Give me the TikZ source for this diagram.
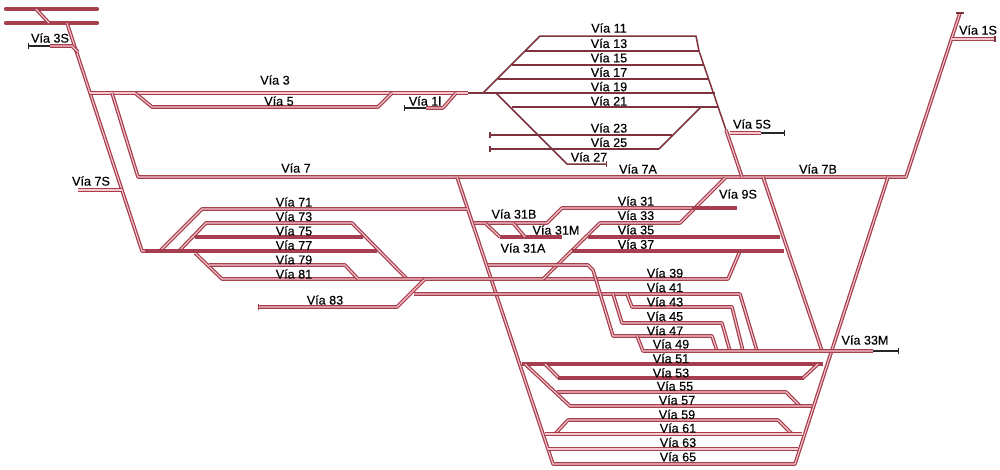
\documentclass[tikz,border=0pt]{standalone}
\usepackage{fontspec}
\setmainfont{Liberation Sans}
\newfontfamily\rotulo[FakeBold=0.25]{Liberation Sans}
\usetikzlibrary{positioning, arrows.meta}
\definecolor{viared}{RGB}{165,62,78}
\definecolor{viapale}{RGB}{248,200,204}
\definecolor{viadark}{RGB}{125,50,62}

\begin{document}
\begin{tikzpicture}[
        x=1pt, y=-1pt,
        node distance=14.4pt,
        via/.style={
            draw=viared, line width=1.25pt,
            double=viapale, double distance=1.1pt, line join=round
        },
        viaplena/.style={draw=viared, line width=4.2pt},
        viafina/.style={draw=viadark, line width=1.5pt, line join=round},
        ramal/.style={draw=black!85, line width=1.1pt},
        etq/.style={
            font=\rotulo\fontsize{12.6}{12.6}\selectfont,
            inner sep=0pt, text=black
        },
        tope/.style={{Bar[width=6pt,length=1.4pt]}-},
        fin/.style={-{Bar[width=6pt,length=1.4pt]}}
    ]
    \useasboundingbox (0,0) rectangle (1000,469);

    % Haces de cabecera
    \draw[viaplena, line cap=round] (6,9) -- (97,9);
    \draw[viaplena, line cap=round] (6,23) -- (97,23);
    \draw[via] (36,9) -- (49,23);

    % Lineas generales
    \draw[via] (67,23) -- (142,251) -- (160,251);
    \draw[via] (90,93) -- (468,93);
    \draw[via] (112,93) -- (138,177) -- (906,177) -- (960,13);
    \draw[viafina] (956,13) -- (964,13);
    \draw[via] (457,177) -- (553,464) -- (795,464) -- (888,177);
    \draw[via] (763,177) -- (822,351);

    % Vias 3S, 7S, 1S, 5S
    \draw[tope, ramal] (28,46) -- (50,46);
    \draw[via] (50,46) -- (72,46) -- (78,52);
    \draw[via] (78,190) -- (122,190);
    \draw[via] (952,39) -- (995,39);
    \draw[viafina] (995,36) -- (995,42);
    \draw[via] (730,133) -- (761,133);
    \draw[fin, ramal] (761,133) -- (785,133);

    % Vias 5 y 1
    \draw[via] (135,93) -- (152,107) -- (378,107) -- (392,93);
    \draw[tope, ramal] (404,108) -- (426,108);
    \draw[via] (426,108) -- (443,108) -- (456,93);

    % Haz superior
    \draw[viafina] (468,93) -- (715,93);
    \draw[viafina] (483,93) -- (540,36) -- (696,36) -- (699,51) -- (726,130);
    \draw[viafina] (525,51) -- (699,51);
    \draw[viafina] (512,65) -- (704,65);
    \draw[viafina] (498,79) -- (709,79);
    \draw[viafina] (512,107) -- (718,107);
    \draw[viafina] (701,107) -- (659,149);
    \draw[viafina, tope] (489,135) -- (672,135);
    \draw[viafina, tope] (489,149) -- (659,149);
    \draw[viafina, fin] (496,93) -- (567,164) -- (607,164);
    \draw[via] (726,130) -- (742,177);

    % Haz izquierdo
    \draw[via] (160,251) -- (202,209) -- (467,209);
    \draw[via] (179,251) -- (206,223) -- (352,223) -- (407,279);
    \draw[viaplena] (195,237) -- (363,237);
    \draw[viaplena] (145,251) -- (377,251);
    \draw[via] (195,253) -- (222,279) -- (728,279) -- (740,251);
    \draw[via] (209,265) -- (345,265) -- (358,279);
    \draw[tope, via] (258,307) -- (397,307) -- (425,279);
    \draw[via] (414,294) -- (740,294) -- (757,351);

    % Vias 31
    \draw[via] (725,178) -- (680,223) -- (600,223) -- (543,279);
    \draw[via] (474,223) -- (547,223) -- (562,208) -- (692,208);
    \draw[viaplena] (692,208) -- (737,208);
    \draw[viaplena] (500,237) -- (562,237);
    \draw[via] (485,223) -- (500,237);
    \draw[via] (513,223) -- (525,237);
    \draw[viaplena] (588,237) -- (780,237);
    \draw[viaplena] (572,251) -- (784,251);

    % Haz central
    \draw[via] (488,265) -- (588,265) -- (593,270) -- (613,336) -- (712,336) -- (717,351);
    \draw[via] (627,294) -- (632,307) -- (732,307) -- (743,351);
    \draw[via] (613,294) -- (622,323) -- (722,323) -- (730,351);
    \draw[via] (637,336) -- (643,351) -- (873,351);
    \draw[fin, ramal] (873,351) -- (899,351);

    % Haz inferior
    \draw[viaplena] (522,364) -- (823,364);
    \draw[via] (545,364) -- (559,378);
    \draw[viaplena] (558,378) -- (804,378);
    \draw[via] (803,378) -- (818,364);
    \draw[via] (557,392) -- (786,392) -- (800,406);
    \draw[via] (525,364) -- (570,406) -- (812,406);
    \draw[via] (555,434) -- (568,420) -- (778,420) -- (792,434);
    \draw[via] (545,434) -- (802,434);
    \draw[via] (548,449) -- (798,449);

    % Rotulos
    \node[etq] (v3s) at (50,38) {Vía 3S};
    \node[etq] (v3) at (275,80) {Vía 3};
    \node[etq] (v5) at (279,101) {Vía 5};
    \node[etq] (v1) at (425,101) {Vía 1l};
    \node[etq] (v7s) at (91,181) {Vía 7S};
    \node[etq] (v7) at (296,168) {Vía 7};
    \node[etq] (v7a) at (638,169) {Vía 7A};
    \node[etq] (v7b) at (818,169) {Vía 7B};
    \node[etq] (v5s) at (752,124) {Vía 5S};
    \node[etq] (v1s) at (978,30) {Vía 1S};
    \node[etq] (v9s) at (738,194) {Vía 9S};

    \node[etq] (v11) at (609,28) {Vía 11};
    \node[etq, below of=v11, yshift=-1pt] (v13) {Vía 13};
    \node[etq, below of=v13] (v15) {Vía 15};
    \node[etq, below of=v15] (v17) {Vía 17};
    \node[etq, below of=v17] (v19) {Vía 19};
    \node[etq, below of=v19] (v21) {Vía 21};
    \node[etq] (v23) at (609,128) {Vía 23};
    \node[etq, below of=v23] (v25) {Vía 25};
    \node[etq] (v27) at (589,157) {Vía 27};

    \node[etq] (v71) at (294,202) {Vía 71};
    \node[etq, below of=v71] (v73) {Vía 73};
    \node[etq, below of=v73] (v75) {Vía 75};
    \node[etq, below of=v75] (v77) {Vía 77};
    \node[etq, below of=v77] (v79) {Vía 79};
    \node[etq, below of=v79] (v81) {Vía 81};
    \node[etq] (v83) at (325,300) {Vía 83};

    \node[etq] (v31) at (636,201) {Vía 31};
    \node[etq, below of=v31] (v33) {Vía 33};
    \node[etq, below of=v33] (v35) {Vía 35};
    \node[etq, below of=v35] (v37) {Vía 37};
    \node[etq] (v31b) at (514,214) {Vía 31B};
    \node[etq] (v31m) at (556,230) {Vía 31M};
    \node[etq] (v31a) at (523,248) {Vía 31A};
    \node[etq] (v33m) at (865,340) {Vía 33M};

    \node[etq] (v39) at (665,273) {Vía 39};
    \node[etq, below of=v39] (v41) {Vía 41};
    \node[etq, below of=v41] (v43) {Vía 43};
    \node[etq, below of=v43] (v45) {Vía 45};
    \node[etq, below of=v45] (v47) {Vía 47};
    \node[etq] (v49) at (671,344) {Vía 49};
    \node[etq, below of=v49] (v51) {Vía 51};
    \node[etq, below of=v51] (v53) {Vía 53};
    \node[etq] (v55) at (675,386) {Vía 55};
    \node[etq] (v57) at (677,400) {Vía 57};
    \node[etq, below of=v57] (v59) {Vía 59};
    \node[etq] (v61) at (678,428) {Vía 61};
    \node[etq, below of=v61] (v63) {Vía 63};
    \node[etq, below of=v63] (v65) {Vía 65};
\end{tikzpicture}
\end{document}
